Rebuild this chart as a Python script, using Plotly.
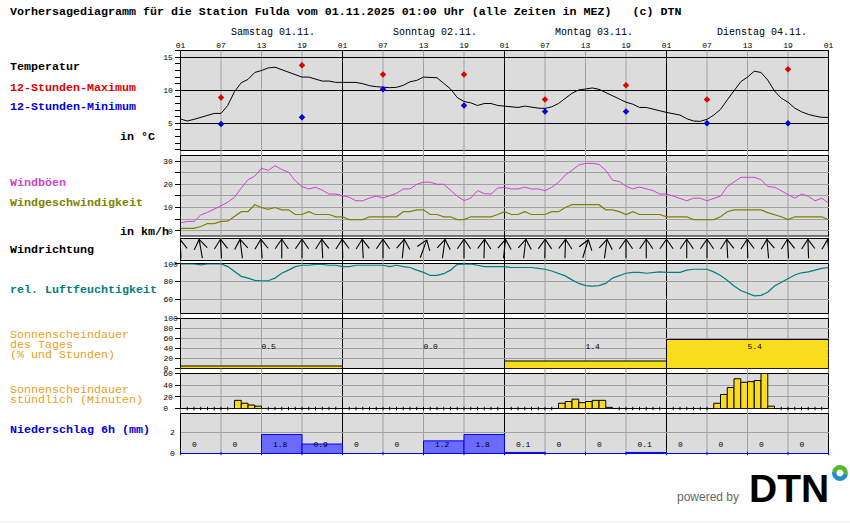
import math

import plotly.graph_objects as go

W, H = 850, 524
LEFT, RIGHT = 180.5, 828.5
PX_PER_HOUR = (RIGHT - LEFT) / 96
MONO = "Liberation Mono"

hours = list(range(97))
tick_hours = [0, 6, 12, 18, 24, 30, 36, 42, 48, 54, 60, 66, 72, 78, 84, 90, 96]
tick_names = ["01", "07", "13", "19", "01", "07", "13", "19", "01", "07", "13", "19", "01", "07", "13", "19", "01"]
day_starts = [0, 24, 48, 72]
day_names = ["Samstag 01.11.", "Sonntag 02.11.", "Montag 03.11.", "Dienstag 04.11."]

temperature = [
    5.65, 5.35, 5.6, 5.9, 6.1, 6.5, 6.5, 7.7, 9.8, 11.15, 11.65, 12.7,
    13, 13.4, 13.5, 13.1, 12.7, 12.3, 12, 12, 11.7, 11.4, 11.4, 11.2,
    11.2, 11.2, 11.2, 11, 10.7, 10.55, 10.45, 10.4, 10.45, 10.75, 11.3, 11.5,
    12, 12, 11.9, 11.05, 10.2, 8.9, 8.3, 8.1, 7.7, 8, 8, 7.7,
    7.6, 7.4, 7.4, 7.6, 7.4, 7.3, 7.25, 7.5, 8, 8.8, 9.55, 10.05,
    10.25, 10.35, 10.15, 9.65, 9.15, 8.6, 8.2, 7.9, 7.4, 7.4, 7.1, 6.9,
    6.65, 6.5, 6.25, 5.7, 5.35, 5.3, 5.6, 6.25, 7.1, 8.55, 9.95, 11.3,
    12, 12.9, 12.7, 11.55, 9.9, 8.8, 8.2, 7.3, 6.75, 6.35, 6.1, 5.9, 5.9,
]
extreme_hours = [6, 18, 30, 42, 54, 66, 78, 90]
temp_max = [8.9, 13.8, 12.4, 12.4, 8.6, 10.75, 8.6, 13.2]
temp_min = [4.9, 5.9, 10.15, 7.7, 6.8, 6.8, 5, 5]

gusts = [
    3.4, 4, 4, 6.8, 7.9, 9.2, 10.7, 12.3, 14.4, 18.4, 22, 23.5,
    26.9, 26, 28, 26.4, 25.2, 21.5, 19, 18, 18.7, 17.5, 15.8, 15.8,
    15, 14.4, 12.9, 12.9, 14.1, 14.9, 14.1, 15, 16.1, 18, 18, 20,
    20.9, 20.9, 20, 20, 17.3, 14.9, 13, 14, 17.3, 16, 15.8, 18.4,
    18.6, 18, 18, 18.8, 18, 18, 17.3, 18.7, 20.8, 24, 26, 28.3,
    29, 29, 28.6, 26, 21.8, 21.2, 19.2, 18, 18.8, 18.1, 17.3, 15.8,
    15.8, 14.9, 14, 12.9, 14, 14, 12.9, 14, 14.9, 19, 21, 23,
    23, 23, 22, 19, 18.8, 17.3, 15.8, 14, 15.8, 14.9, 12.9, 14, 12,
]
wind_speed = [
    1, 1, 1, 1.8, 3.1, 3.1, 4, 4.1, 6.2, 8.2, 8.2, 11.2,
    10, 9.2, 10, 9, 9, 7, 7, 8.2, 7, 7, 7, 6,
    6, 4.8, 4.8, 4.8, 6, 6, 6, 6, 6, 8.2, 8.2, 9,
    9, 7, 7, 6, 6, 4.8, 4.8, 6, 6, 6, 6, 7,
    8.2, 7, 7, 8.2, 7, 7, 7, 8.2, 8.2, 10, 11.2, 11.2,
    11.2, 11.2, 11.2, 9, 9, 8.2, 7, 8.2, 7, 7, 7, 7,
    6, 6, 6, 6, 4.8, 4.8, 4.8, 4.8, 6, 8.2, 9, 9,
    9, 9, 9, 7.8, 7, 6, 4.8, 6, 6, 6, 6, 6, 4.8,
]

arrow_hours = [0, 3, 6, 9, 12, 15, 18, 21, 24, 27, 30, 33, 36, 39, 42, 45, 48,
               51, 54, 57, 60, 63, 66, 69, 72, 75, 78, 81, 84, 87, 90, 93, 96]
wind_dir = [357, 350, 357, 353, 356, 0, 0, 357, 358, 357, 0, 6, 20, 8, 0, 2, 6,
            7, 1, 2, 17, 8, 0, 0, 0, 0, 0, 357, 358, 355, 357, 358, 355]

humidity = [
    100, 100, 100, 99, 100, 100, 100, 97, 91, 86, 84, 81.5,
    81, 81, 84, 89.5, 93, 97, 98.5, 98.5, 99.6, 99.6, 98.5, 98.5,
    97, 97, 98.5, 98.5, 99, 98.5, 98.5, 97, 98.5, 97, 96, 93,
    90.5, 87, 87, 89, 93, 99.6, 99.6, 100, 98.5, 97, 97, 97,
    97, 96, 96, 96, 96, 95, 94, 92, 89.5, 86.5, 82, 78,
    75.5, 75, 75.5, 78, 84, 87, 89.5, 90.5, 90.5, 89.5, 90.5, 91,
    90.5, 90.5, 90.5, 93, 94, 94, 94, 91, 87, 81.5, 75, 70,
    67, 64, 64.5, 68, 75, 79, 83, 87.5, 90, 91, 93, 95, 96,
]

sun_day_percent = [5, 0, 15, 58]
sun_day_hours = ["0.5", "0.0", "1.4", "5.4"]
sun_minutes = [
    0, 0, 0, 0, 0, 0, 0, 0, 14, 9, 6, 4, 0, 0, 0, 0, 0, 0, 0, 0, 0, 0, 0, 0,
    0, 0, 0, 0, 0, 0, 0, 0, 0, 0, 0, 0, 0, 0, 0, 0, 0, 0, 0, 0, 0, 0, 0, 0,
    0, 0, 0, 0, 0, 0, 0, 0, 9, 12, 16, 10, 12, 14, 14, 2, 0, 0, 0, 0, 0, 0, 0, 0,
    0, 0, 0, 0, 0, 0, 0, 9, 24, 36, 51, 45, 46, 48, 60, 4, 0, 0, 0, 0, 0, 0, 0, 0,
]

rain_starts = [0, 6, 12, 18, 24, 30, 36, 42, 48, 54, 60, 66, 72, 78, 84, 90]
rain = [0, 0, 1.8, 0.9, 0, 0, 1.2, 1.8, 0.1, 0, 0, 0.1, 0, 0, 0, 0]
rain_text = ["0", "0", "1.8", "0.9", "0", "0", "1.2", "1.8", "0.1", "0", "0", "0.1", "0", "0", "0", "0"]

NB = "\u00a0"


def px(x):
    return x / W


def py(y):
    return 1 - y / H


def dom(top, bottom):
    return [py(bottom), py(top)]


def y_axis(top, bottom, lo, hi, **kw):
    ax = dict(
        domain=dom(top, bottom), range=[lo, hi], showline=False, zeroline=False, automargin=False,
        ticks="outside", ticklen=5, tickcolor="black", tickwidth=1,
        tickfont=dict(family=MONO, size=8, color="black"),
        gridcolor="#a0a0a0", gridwidth=1,
    )
    ax.update(kw)
    return ax


fig = go.Figure()

# temperature
fig.add_trace(go.Scatter(x=hours, y=temperature, mode="lines", line=dict(color="black", width=1), yaxis="y"))
fig.add_trace(go.Scatter(x=extreme_hours, y=temp_max, mode="markers", marker=dict(color="#e00000", symbol="diamond", size=5), yaxis="y"))
fig.add_trace(go.Scatter(x=extreme_hours, y=temp_min, mode="markers", marker=dict(color="#0000e0", symbol="diamond", size=5), yaxis="y"))

# wind
fig.add_trace(go.Scatter(x=hours, y=gusts, mode="lines", line=dict(color="#cc44cc", width=1), yaxis="y2"))
fig.add_trace(go.Scatter(x=hours, y=wind_speed, mode="lines", line=dict(color="#808000", width=1.2), yaxis="y2"))

# wind direction arrows, y axis of this panel runs in pixels
arrow_x, arrow_y = [], []
for h, d in zip(arrow_hours, wind_dir):
    a = math.radians(d)
    tip_x = h + 9.5 * math.sin(a) / PX_PER_HOUR
    tip_y = 11.7 + 9.5 * math.cos(a)
    tail_x = h - 9.5 * math.sin(a) / PX_PER_HOUR
    tail_y = 11.7 - 9.5 * math.cos(a)
    arrow_x += [tail_x, tip_x, None]
    arrow_y += [tail_y, tip_y, None]
    for side in (-35, 35):
        b = math.radians(d + 180 + side)
        arrow_x += [tip_x, tip_x + 11.5 * math.sin(b) / PX_PER_HOUR, None]
        arrow_y += [tip_y, tip_y + 11.5 * math.cos(b), None]
fig.add_trace(go.Scatter(x=arrow_x, y=arrow_y, mode="lines", line=dict(color="black", width=1.1), yaxis="y3", cliponaxis=False))

# humidity
fig.add_trace(go.Scatter(x=hours, y=humidity, mode="lines", line=dict(color="#008080", width=1.2), yaxis="y4"))

# daily sunshine
fig.add_trace(go.Bar(
    x=day_starts, y=sun_day_percent, width=24, offset=0, yaxis="y5",
    marker=dict(color="#f9dc1c", line=dict(color="black", width=1)),
))
fig.add_trace(go.Scatter(
    x=[d + 12 for d in day_starts], y=[43] * 4, mode="text", text=sun_day_hours, textposition="middle right",
    textfont=dict(family=MONO, size=8, color="black"), yaxis="y5",
))

# hourly sunshine
fig.add_trace(go.Bar(
    x=hours[:-1], y=sun_minutes, width=1, offset=0, yaxis="y6",
    marker=dict(color="#f9dc1c", line=dict(color="black", width=1)),
))
quiet = [h for h in hours[1:-1] if sun_minutes[h - 1] == 0 and sun_minutes[h] == 0]
fig.add_trace(go.Scatter(
    x=quiet, y=[0] * len(quiet), mode="markers", yaxis="y6", cliponaxis=False,
    marker=dict(symbol="line-ns", size=2.5, line=dict(color="black", width=1)),
))

# precipitation
fig.add_trace(go.Bar(
    x=rain_starts, y=rain, width=6, offset=0, yaxis="y7",
    marker=dict(color="#6a6aff", line=dict(color="#0000ff", width=1)),
))
fig.add_trace(go.Scatter(
    x=[hours[0], hours[-1]], y=[0, 0], mode="lines", line=dict(color="#0000ff", width=1.2), yaxis="y7", cliponaxis=False,
))
fig.add_trace(go.Scatter(
    x=tick_hours, y=[0] * len(tick_hours), mode="markers", yaxis="y7", cliponaxis=False,
    marker=dict(symbol="line-ns", size=2.5, line=dict(color="#0000ff", width=1)),
))
fig.add_trace(go.Scatter(
    x=[s + 1.7 for s in rain_starts], y=[0.8] * len(rain), mode="text", text=rain_text, textposition="middle right",
    textfont=dict(family=MONO, size=8, color="black"), yaxis="y7",
))

# logo ring
fig.add_trace(go.Pie(
    values=[50, 50], hole=0.42, sort=False, rotation=100, textinfo="none", showlegend=False,
    marker=dict(colors=["#1b8fd2", "#5cb531"]),
    domain=dict(x=[px(832), px(848)], y=dom(465, 481)),
))

# panels first, then the vertical lines that run through all of them
panels = [(50.5, 150.5), (155.5, 236), (238.5, 260.5), (263.5, 313.5), (318.5, 368.5), (373.5, 408.5), (413.5, 453.5)]
shapes = []
for top, bottom in panels:
    shapes.append(dict(
        type="rect", xref="paper", yref="paper", x0=px(LEFT), x1=px(RIGHT), y0=py(bottom), y1=py(top),
        fillcolor="#dcdcdc", line=dict(color="black", width=1), layer="below",
    ))
for h in tick_hours:
    color = "black" if h % 24 == 0 else "#a0a0a0"
    shapes.append(dict(
        type="line", xref="x", yref="paper", x0=h, x1=h, y0=py(453.5), y1=py(50.5),
        line=dict(color=color, width=1), layer="below",
    ))
shapes.append(dict(
    type="line", xref="paper", yref="paper", x0=0, x1=1, y0=py(522), y1=py(522),
    line=dict(color="#eeeeee", width=1), layer="below",
))


def label(x, y, text, color="black", bold=True, size=11.67, family=MONO):
    return dict(
        xref="paper", yref="paper", x=px(x), y=py(y), text=f"<b>{text}</b>" if bold else text,
        showarrow=False, xanchor="left", yanchor="middle", align="left", borderpad=0,
        font=dict(family=family, size=size, color=color),
    )


annotations = [
    label(9, 12, f"Vorhersagediagramm für die Station Fulda vom 01.11.2025 01:00 Uhr (alle Zeiten in MEZ){NB}{NB}{NB}(c) DTN"),
    label(9, 67.5, "Temperatur"),
    label(9, 87.5, "12-Stunden-Maximum", "#e00000"),
    label(9, 107.5, "12-Stunden-Minimum", "#0000e0"),
    label(119, 137, "in °C"),
    label(9, 182.5, "Windböen", "#cc44cc"),
    label(9, 202.5, "Windgeschwindigkeit", "#808000"),
    label(119, 232, "in km/h"),
    label(9, 250, "Windrichtung"),
    label(9, 290, "rel. Luftfeuchtigkeit", "#008080"),
    label(9, 335, "Sonnenscheindauer", "#e8a020", False),
    label(9, 345, "des Tages", "#e8a020", False),
    label(9, 355, "(% und Stunden)", "#e8a020", False),
    label(9, 390, "Sonnenscheindauer", "#e8a020", False),
    label(9, 400, "stündlich (Minuten)", "#e8a020", False),
    label(9, 430, "Niederschlag 6h (mm)", "#0000e0"),
    label(676, 497, "powered by", "#666666", False, 12, "Liberation Sans"),
    label(748, 488, "DTN", "black", True, 39, "Liberation Sans"),
]
for start, name in zip(day_starts, day_names):
    annotations.append(dict(
        xref="x", yref="paper", x=start + 7.3, y=py(33), text=name, showarrow=False,
        xanchor="left", yanchor="middle", borderpad=0, font=dict(family=MONO, size=10, color="black"),
    ))

fig.update_layout(
    template="none",
    width=W, height=H, margin=dict(l=0, r=0, t=0, b=0, pad=0), autosize=False,
    paper_bgcolor="white", plot_bgcolor="rgba(0,0,0,0)",
    showlegend=False, hovermode=False, barmode="overlay",
    shapes=shapes, annotations=annotations,
    xaxis=dict(
        domain=[px(LEFT), px(RIGHT)], range=[0, 96], anchor="y", side="top", showgrid=False, zeroline=False,
        automargin=False, showline=False, tickmode="array", tickvals=tick_hours, ticktext=tick_names, ticks="", ticklen=0,
        tickfont=dict(family=MONO, size=8, color="black"), tickangle=0,
    ),
    yaxis=y_axis(50.5, 150.5, 0.88, 16.03, tickmode="linear", tick0=0, dtick=5, gridcolor="black",
                 minor=dict(dtick=1, tick0=0, ticks="outside", ticklen=5, tickcolor="black", showgrid=False)),
    yaxis2=y_axis(155.5, 236, -2.27, 32.4, tickmode="linear", tick0=0, dtick=10,
                  minor=dict(dtick=5, tick0=0, ticks="outside", ticklen=5, tickcolor="black", showgrid=True, gridcolor="#a0a0a0")),
    yaxis3=y_axis(238.5, 260.5, 0, 22, showticklabels=False, ticks="", showgrid=False),
    yaxis4=y_axis(263.5, 313.5, 44, 100.5, tickmode="array", tickvals=[60, 80, 100],
                  ticktext=[f"60{NB}", f"80{NB}", "100"], ticklabelstandoff=-5),
    yaxis5=y_axis(318.5, 368.5, 0, 100, tickmode="array", tickvals=[0, 20, 40, 60, 80, 100],
                  ticktext=[f"0{NB}{NB}", f"20{NB}", f"40{NB}", f"60{NB}", f"80{NB}", "100"], ticklabelstandoff=-5),
    yaxis6=y_axis(373.5, 408.5, 0, 60, tickmode="array", tickvals=[0, 20, 40, 60],
                  ticktext=[f"0{NB}", "20", "40", "60"]),
    yaxis7=y_axis(413.5, 453.5, 0, 3.8, tickmode="array", tickvals=[0, 2], ticktext=[f"0{NB}", f"2{NB}"], ticks=""),
)

fig.write_html("out.html", post_script="document.body.style.margin='0';", config={"displayModeBar": False})
